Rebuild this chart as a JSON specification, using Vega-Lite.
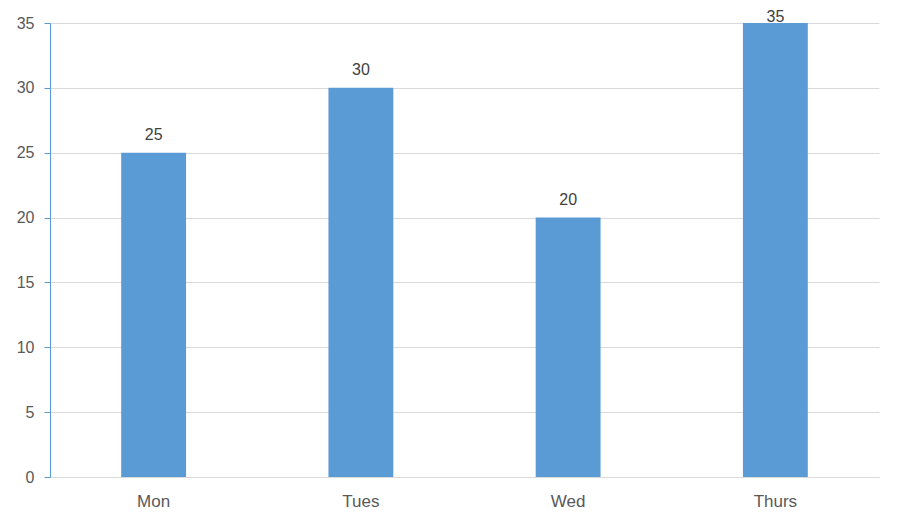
{
  "$schema": "https://vega.github.io/schema/vega-lite/v6.json",
  "width": 829,
  "height": 454,
  "autosize": {"type": "none"},
  "padding": {"left": 50, "top": 23, "right": 23, "bottom": 50},
  "background": "white",
  "config": {
    "view": {"stroke": null},
    "font": "Liberation Sans"
  },
  "data": {
    "values": [
      {"day": "Mon", "value": 25},
      {"day": "Tues", "value": 30},
      {"day": "Wed", "value": 20},
      {"day": "Thurs", "value": 35}
    ]
  },
  "encoding": {
    "x": {
      "field": "day",
      "type": "nominal",
      "sort": null,
      "scale": {"paddingInner": 0.687, "paddingOuter": 0.3435},
      "axis": {
        "title": null,
        "labelAngle": 0,
        "labelFontSize": 17,
        "labelColor": "#595959",
        "labelPadding": 16,
        "ticks": false,
        "domainColor": "#d9d9d9",
        "domainWidth": 1
      }
    },
    "y": {
      "field": "value",
      "type": "quantitative",
      "scale": {"domain": [0, 35], "nice": false},
      "axis": {
        "title": null,
        "values": [0, 5, 10, 15, 20, 25, 30, 35],
        "labelFontSize": 16,
        "labelColor": "#595959",
        "labelPadding": 10,
        "tickSize": 6,
        "tickColor": "#5b9bd5",
        "domainColor": "#5b9bd5",
        "gridColor": "#d9d9d9",
        "grid": true
      }
    }
  },
  "layer": [
    {"mark": {"type": "bar", "color": "#5b9bd5"}},
    {
      "transform": [{"filter": "datum.value < 35"}],
      "mark": {"type": "text", "dy": -13, "baseline": "alphabetic", "fontSize": 16, "color": "#404040"},
      "encoding": {"text": {"field": "value", "type": "quantitative"}}
    },
    {
      "transform": [{"filter": "datum.value >= 35"}],
      "mark": {"type": "text", "dy": -1, "baseline": "alphabetic", "fontSize": 16, "color": "#404040"},
      "encoding": {"text": {"field": "value", "type": "quantitative"}}
    }
  ]
}
